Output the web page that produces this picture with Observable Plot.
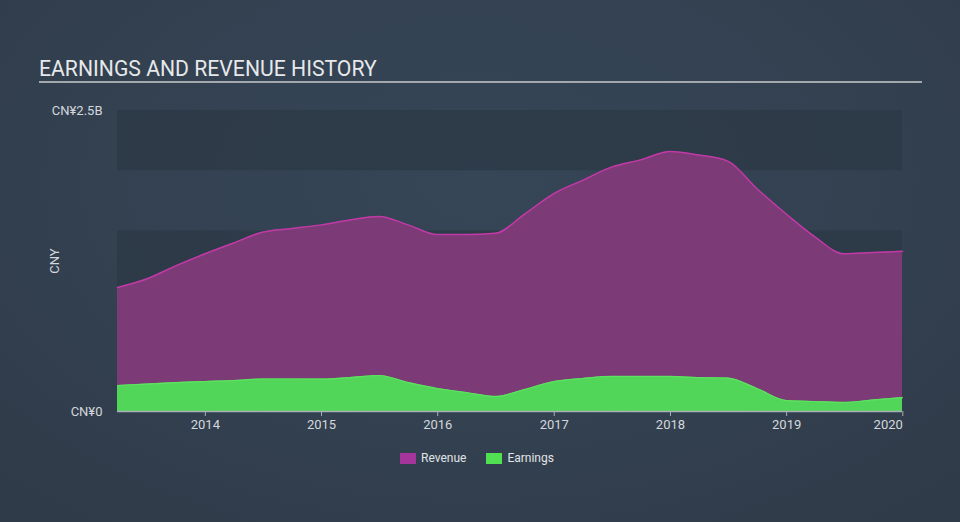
<!DOCTYPE html>
<html><head><meta charset="utf-8">
<script src="https://cdn.jsdelivr.net/npm/d3@7"></script>
<script src="https://cdn.jsdelivr.net/npm/@observablehq/plot@0.6"></script>
<style>
html,body{margin:0;padding:0;background:#333f4e;}
body{width:960px;height:522px;overflow:hidden;font-family:Roboto,"Open Sans",sans-serif;}
#wrap{position:relative;width:960px;height:522px;background:radial-gradient(ellipse 70% 80% at 50% 35%, #364657 0%, #334151 55%, #303b49 100%);}
#chart{position:absolute;left:0;top:0;}
#title{position:absolute;left:39px;top:58px;font-size:21.2px;line-height:21px;color:#e6e8ea;letter-spacing:0;white-space:nowrap;}
#rule{position:absolute;left:39px;top:81px;width:883px;height:2px;background:#a3a8ad;}
#legend{position:absolute;left:400px;top:453px;display:flex;align-items:center;font-size:12px;color:#e0e3e6;}
#legend .sw{width:16px;height:11px;margin-right:5px;}
#legend .item{display:flex;align-items:center;margin-right:20px;line-height:11px;}
</style>
</head><body>
<div id="wrap">
  <div id="chart"></div>
  <div id="title">EARNINGS AND REVENUE HISTORY</div>
  <div id="rule"></div>
  <div id="legend"></div>
</div>
<script>
const dates = ["2013-03-31","2013-06-30","2013-09-30","2013-12-31",
  "2014-03-31","2014-06-30","2014-09-30","2014-12-31",
  "2015-03-31","2015-06-30","2015-09-30","2015-12-31",
  "2016-03-31","2016-06-30","2016-09-30","2016-12-31",
  "2017-03-31","2017-06-30","2017-09-30","2017-12-31",
  "2018-03-31","2018-06-30","2018-09-30","2018-12-31",
  "2019-03-31","2019-06-30","2019-09-30","2019-12-31"];
const revenue = [1.03,1.10,1.21,1.31, 1.40,1.49,1.52,1.55, 1.59,1.62,1.55,1.47,
  1.47,1.48,1.64,1.81, 1.92,2.03,2.09,2.16, 2.13,2.08,1.85,1.64, 1.45,1.31,1.32,1.33];
const earnings = [0.216,0.228,0.240,0.249, 0.257,0.270,0.270,0.269, 0.282,0.299,0.241,0.191,
  0.158,0.125,0.183,0.249, 0.274,0.291,0.291,0.291, 0.282,0.278,0.191,0.091, 0.083,0.075,0.096,0.116];
const yTicks = [0, 2.5];
const bandLow = [0, 1.0, 2.0];
const bandHigh = [0.5, 1.5, 2.5];
const xTickYears = [2014, 2015, 2016, 2017, 2018, 2019];
const lastTickYear = [2020];
const seriesNames = ["Revenue", "Earnings"];
const seriesColors = ["#a5359a", "#51e052"];

const B = 1e9;
const data = dates.map((d, i) => ({date: new Date(d), revenue: revenue[i] * B, earnings: earnings[i] * B}));
const bands = bandLow.map((v, i) => ({y1: v * B, y2: bandHigh[i] * B}));
const yr = y => new Date(Date.UTC(y, 0, 1));

const font = "Roboto, 'Open Sans', sans-serif";
const chart = Plot.plot({
  width: 960, height: 522,
  marginLeft: 117, marginRight: 58, marginTop: 110, marginBottom: 111,
  style: {background: "transparent", fontFamily: font, color: "#d4d8dc"},
  x: {type: "utc", domain: [data[0].date, data[data.length - 1].date]},
  y: {domain: [0, 2.5 * B]},
  marks: [
    Plot.rectY(bands, {y1: "y1", y2: "y2", fill: "#2c3846", fillOpacity: 0.75}),
    Plot.areaY(data, {x: "date", y: "revenue", fill: "#7c3a76", curve: "monotone-x"}),
    Plot.lineY(data, {x: "date", y: "revenue", stroke: "#c03aa6", strokeWidth: 1.5, curve: "monotone-x"}),
    Plot.areaY(data, {x: "date", y: "earnings", fill: "#52d65a", curve: "monotone-x"}),
    Plot.lineY(data, {x: "date", y: "earnings", stroke: "#5de35f", strokeWidth: 1.2, curve: "monotone-x"}),
    Plot.ruleY([0], {stroke: "#a9b0b7", strokeWidth: 1.5}),
    Plot.axisX({ticks: xTickYears.map(yr), tickFormat: "%Y", tickSize: 5, tickPadding: 3, stroke: "#a9b0b7", fill: "#d4d8dc", fontSize: 13, label: null}),
    Plot.axisX({ticks: lastTickYear.map(yr), tickFormat: "%Y", tickSize: 5, tickPadding: 3, stroke: "#a9b0b7", fill: "#d4d8dc", fontSize: 13, textAnchor: "end", label: null}),
    Plot.axisY({ticks: yTicks.map(v => v * B), tickFormat: d => d === 0 ? "CN¥0" : "CN¥" + (d / B) + "B", tickSize: 0, tickPadding: 15, fill: "#d4d8dc", fontSize: 13,
      label: "CNY", labelAnchor: "center", labelOffset: 68, labelArrow: "none"})
  ]
});
document.getElementById("chart").appendChild(chart);

const legend = document.getElementById("legend");
seriesNames.forEach((n, i) => {
  const it = document.createElement("div");
  it.className = "item";
  const sw = document.createElement("div");
  sw.className = "sw";
  sw.style.background = seriesColors[i];
  const tx = document.createElement("span");
  tx.textContent = n;
  it.appendChild(sw); it.appendChild(tx);
  legend.appendChild(it);
});
</script>
</body></html>
